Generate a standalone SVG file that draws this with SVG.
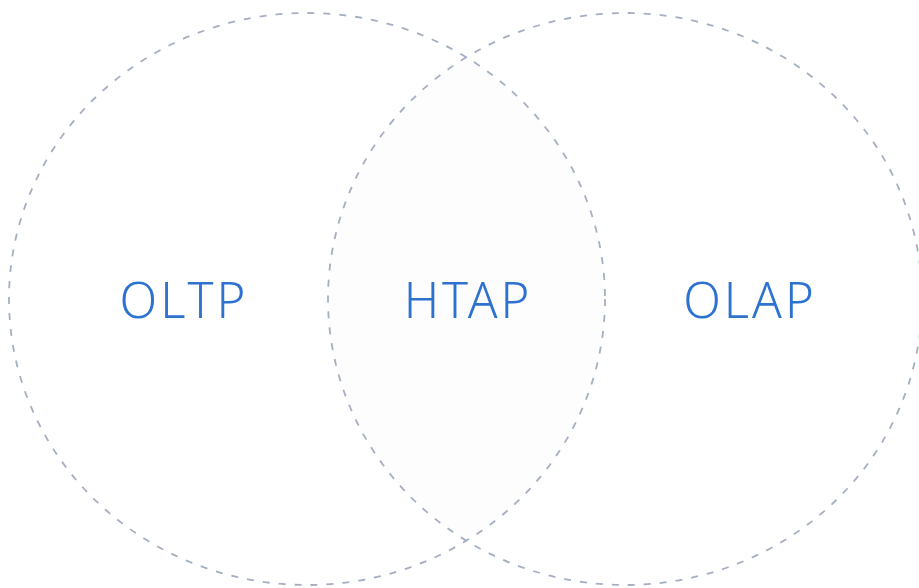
<svg xmlns="http://www.w3.org/2000/svg" width="919" height="588" viewBox="0 0 919 588">
<style>
.ring{fill:none;stroke:#a5afc2;stroke-width:1.8;stroke-dasharray:7 9}
.lbl{font-family:"Noto Sans","Open Sans",sans-serif;font-size:49px;font-weight:350;fill:#2e72d0;text-anchor:middle;letter-spacing:3px}
</style>
<defs>
<clipPath id="clipL"><ellipse cx="307" cy="299" rx="298" ry="286"/></clipPath>
</defs>
<rect width="919" height="588" fill="#ffffff"/>
<ellipse cx="625" cy="299" rx="297" ry="286" fill="#fdfdfd" clip-path="url(#clipL)"/>
<g id="oltp">
<ellipse class="ring" cx="307" cy="299" rx="298" ry="286"/>
<text class="lbl" x="184" y="318">OLTP</text>
</g>
<g id="olap">
<ellipse class="ring" cx="625" cy="299" rx="297" ry="286"/>
<text class="lbl" x="750" y="318">OLAP</text>
</g>
<g id="htap">
<text class="lbl" x="468" y="318">HTAP</text>
</g>
<g id="connectors"></g>
</svg>
